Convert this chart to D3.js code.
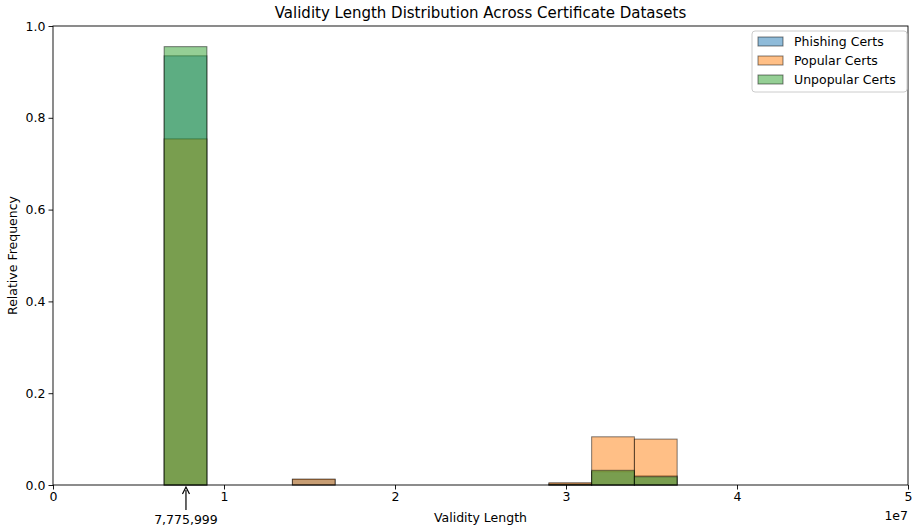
<!DOCTYPE html>
<html>
<head>
<meta charset="utf-8">
<script src="https://cdn.jsdelivr.net/npm/d3@7"></script>
<style>
  body { margin: 0; background: #fff; }
  text { font-family: "DejaVu Sans", sans-serif; }
</style>
</head>
<body>
<div id="chart"></div>
<script>
// histogram bin edges (validity length, seconds)
const binEdges = [1.5e6, 4.0e6, 6.5e6, 9.0e6, 11.5e6, 14.0e6, 16.5e6, 19.0e6, 21.5e6, 24.0e6,
                  26.5e6, 29.0e6, 31.5e6, 34.0e6, 36.5e6, 39.0e6, 41.5e6, 44.0e6, 46.5e6, 49.0e6, 51.5e6];

const seriesNames = ['Phishing Certs', 'Popular Certs', 'Unpopular Certs'];
const seriesColors = ['#1f77b4', '#ff7f0e', '#2ca02c'];

// relative frequency per bin
const phishing  = [0, 0, 0.935, 0, 0, 0.012, 0, 0, 0, 0, 0, 0.003, 0.029, 0.020, 0, 0, 0, 0, 0, 0];
const popular   = [0, 0, 0.754, 0, 0, 0.013, 0, 0, 0, 0, 0, 0.005, 0.105, 0.100, 0, 0, 0, 0, 0, 0];
const unpopular = [0, 0, 0.955, 0, 0, 0,     0, 0, 0, 0, 0, 0.001, 0.032, 0.018, 0, 0, 0, 0, 0, 0];

const xTicks = [0, 1e7, 2e7, 3e7, 4e7, 5e7];
const yTicks = [0, 0.2, 0.4, 0.6, 0.8, 1.0];
const markValue = 7775999;

const W = 918, H = 532;
const margin = { top: 26, right: 10, bottom: 47, left: 53 };
const width = W - margin.left - margin.right;
const height = H - margin.top - margin.bottom;

const svg = d3.select('#chart')
  .append('svg')
  .attr('width', W)
  .attr('height', H);

svg.append('defs').append('clipPath')
  .attr('id', 'plot-clip')
  .append('rect')
  .attr('width', width)
  .attr('height', height + 2)
  .attr('y', -1);

const g = svg.append('g')
  .attr('transform', `translate(${margin.left},${margin.top})`);

const x = d3.scaleLinear().domain([0, 5e7]).range([0, width]);
const y = d3.scaleLinear().domain([0, 1.0]).range([height, 0]);

const allSeries = [phishing, popular, unpopular];
const bars = g.append('g').attr('clip-path', 'url(#plot-clip)');

allSeries.forEach((vals, si) => {
  const data = vals.map((v, i) => ({ x0: binEdges[i], x1: binEdges[i + 1], v }));
  bars.append('g')
    .selectAll('rect')
    .data(data)
    .join('rect')
    .attr('x', d => x(d.x0))
    .attr('y', d => y(d.v))
    .attr('width', d => x(d.x1) - x(d.x0))
    .attr('height', d => y(0) - y(d.v))
    .attr('fill', seriesColors[si])
    .attr('fill-opacity', 0.5)
    .attr('stroke', '#000')
    .attr('stroke-opacity', 0.5)
    .attr('stroke-width', 1);
});

// axes
const xAxis = g.append('g')
  .attr('transform', `translate(0,${height})`)
  .call(d3.axisBottom(x).tickValues(xTicks).tickFormat(d => d / 1e7).tickSize(4.5).tickPadding(3));
const yAxis = g.append('g')
  .call(d3.axisLeft(y).tickValues(yTicks).tickFormat(d3.format('.1f')).tickSize(4.5).tickPadding(3));
[xAxis, yAxis].forEach(a => {
  a.selectAll('text').attr('font-size', 12.5).attr('fill', '#000').attr('font-family', 'DejaVu Sans');
  a.selectAll('line').attr('stroke', '#000').attr('stroke-width', 0.9);
  a.select('.domain').remove();
});

// spines
g.append('rect')
  .attr('width', width)
  .attr('height', height)
  .attr('fill', 'none')
  .attr('stroke', '#000')
  .attr('stroke-width', 0.9);

// offset text
svg.append('text')
  .attr('x', margin.left + width)
  .attr('y', 520)
  .attr('text-anchor', 'end')
  .attr('font-size', 12.5)
  .text('1e7');

// annotation arrow
const ax = margin.left + x(markValue);
svg.append('line')
  .attr('x1', ax).attr('x2', ax)
  .attr('y1', 510).attr('y2', 490)
  .attr('stroke', '#000').attr('stroke-width', 1.2);
svg.append('path')
  .attr('d', `M${ax - 3.5},${494} L${ax},${487} L${ax + 3.5},${494}`)
  .attr('fill', 'none').attr('stroke', '#000').attr('stroke-width', 1.2);
svg.append('text')
  .attr('x', ax)
  .attr('y', 524)
  .attr('text-anchor', 'middle')
  .attr('font-size', 12.5)
  .text(d3.format(',')(markValue));

// title and axis labels
svg.append('text')
  .attr('x', margin.left + width / 2)
  .attr('y', 18)
  .attr('text-anchor', 'middle')
  .attr('font-size', 15)
  .text('Validity Length Distribution Across Certificate Datasets');

svg.append('text')
  .attr('x', margin.left + width / 2)
  .attr('y', 522)
  .attr('text-anchor', 'middle')
  .attr('font-size', 12.5)
  .text('Validity Length');

svg.append('text')
  .attr('transform', `translate(17,${margin.top + height / 2}) rotate(-90)`)
  .attr('text-anchor', 'middle')
  .attr('font-size', 12.5)
  .text('Relative Frequency');

// legend
const legend = svg.append('g').attr('transform', 'translate(752,31)');
legend.append('rect')
  .attr('width', 155).attr('height', 61)
  .attr('rx', 3)
  .attr('fill', '#fff').attr('fill-opacity', 0.8)
  .attr('stroke', '#ccc');
seriesNames.forEach((name, i) => {
  const row = legend.append('g').attr('transform', `translate(6,${6 + i * 19})`);
  row.append('rect')
    .attr('width', 25).attr('height', 9)
    .attr('fill', seriesColors[i]).attr('fill-opacity', 0.5)
    .attr('stroke', '#000').attr('stroke-opacity', 0.5);
  row.append('text')
    .attr('x', 36).attr('y', 9)
    .attr('font-size', 12.5)
    .text(name);
});
</script>
</body>
</html>
